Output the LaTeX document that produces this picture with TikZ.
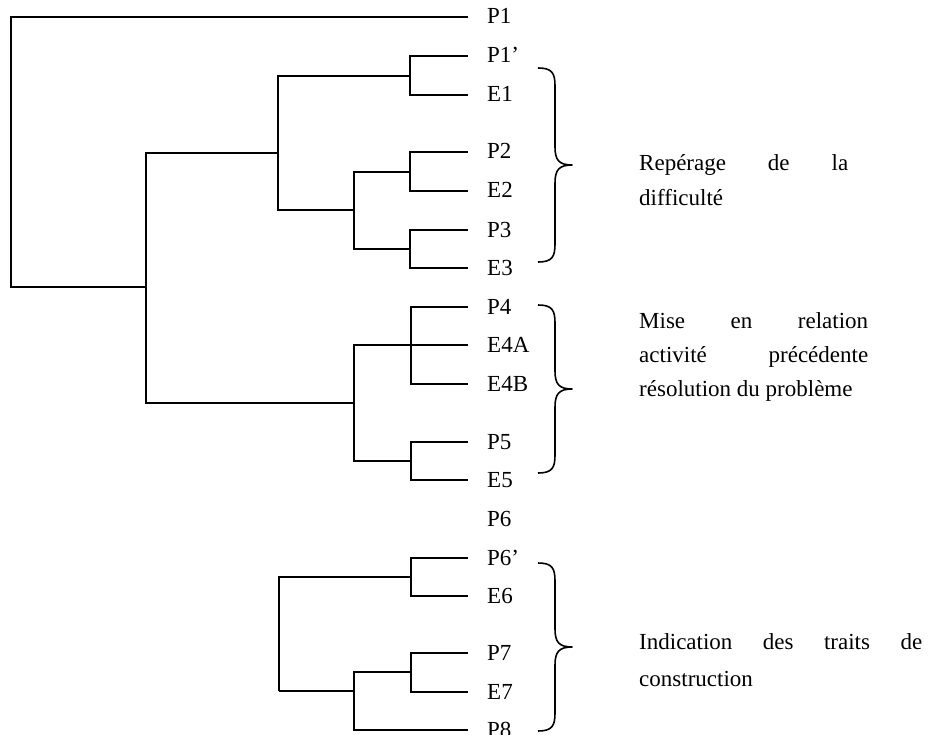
\documentclass[tikz,border=0pt]{standalone}
\usepackage{fontspec}
\setmainfont{Liberation Serif}
\newcommand\wordbrace[3]{%
  \draw[bracestyle] (538,#1) .. controls (552,#1) and (555,#1+5) .. (555,#1+18)
    -- (555,#3-18) .. controls (555,#3-5) and (559,#3) .. (572,#3)
    .. controls (559,#3) and (555,#3+5) .. (555,#3+18)
    -- (555,#2-18) .. controls (555,#2-5) and (552,#2) .. (538,#2);}
\begin{document}
\begin{tikzpicture}[x=1pt,y=-1pt,
  tree/.style={line width=1.8pt, line join=miter},
  bracestyle/.style={line width=1.6pt, line join=round},
  leaf/.style={anchor=base west, inner sep=0pt, font=\fontsize{23}{27}\selectfont},
  desc/.style={anchor=base west, inner sep=0pt, font=\fontsize{23}{27}\selectfont}]
\fill[white] (0,0) rectangle (928,735);
\useasboundingbox (0,0) rectangle (928,735);

% leaves
\foreach \n/\t/\y in {P1/P1/17, P1p/P1’/56, E1/E1/95, P2/P2/152, E2/E2/191,
  P3/P3/230, E3/E3/268, P4/P4/307, E4A/E4A/345, E4B/E4B/384, P5/P5/442,
  E5/E5/480, P6p/P6’/558, E6/E6/596, P7/P7/653, E7/E7/692, P8/P8/730} {
  \coordinate (t\n) at (468,\y);
  \node[leaf] (l\n) at (487,\y+7) {\t};
}
\node[leaf] (lP6) at (487,526) {P6};

% internal joins
\coordinate (a) at (410,76);
\coordinate (b) at (410,172);
\coordinate (c) at (410,249);
\coordinate (d) at (354,210);
\coordinate (e) at (278,153);
\coordinate (f) at (411,345);
\coordinate (g) at (411,461);
\coordinate (h) at (354,403);
\coordinate (i) at (146,287);
\coordinate (root) at (11,17);
\coordinate (j) at (411,577);
\coordinate (k) at (411,672);
\coordinate (l) at (354,691);
\coordinate (m) at (279,691);

\draw[tree] (tP1) -- (root) |- (i);
\draw[tree] (i) |- (e);
\draw[tree] (i) |- (h);
\draw[tree] (e) |- (a);
\draw[tree] (e) |- (d);
\draw[tree] (a) |- (tP1p);
\draw[tree] (a) |- (tE1);
\draw[tree] (d) |- (b);
\draw[tree] (d) |- (c);
\draw[tree] (b) |- (tP2);
\draw[tree] (b) |- (tE2);
\draw[tree] (c) |- (tP3);
\draw[tree] (c) |- (tE3);
\draw[tree] (h) |- (tE4A);
\draw[tree] (h) |- (g);
\draw[tree] (f) |- (tP4);
\draw[tree] (f) |- (tE4B);
\draw[tree] (g) |- (tP5);
\draw[tree] (g) |- (tE5);
\draw[tree] (m) |- (j);
\draw[tree] (m) -- (l);
\draw[tree] (j) |- (tP6p);
\draw[tree] (j) |- (tE6);
\draw[tree] (l) |- (k);
\draw[tree] (l) |- (tP8);
\draw[tree] (k) |- (tP7);
\draw[tree] (k) |- (tE7);

% braces
\wordbrace{68}{262}{165}
\wordbrace{305}{473}{389}
\wordbrace{563}{731}{647}

% descriptions
\node[desc] (r1a) at (639,171) {\hbox to 209pt{Repérage\hfill de\hfill la}};
\node[desc] (r1b) at (639,206) {difficulté};
\node[desc] (r2a) at (639,328) {\hbox to 229pt{Mise\hfill en\hfill relation}};
\node[desc] (r2b) at (639,362) {\hbox to 229pt{activité\hfill précédente}};
\node[desc] (r2c) at (639,396) {résolution du problème};
\node[desc] (r3a) at (639,649) {\hbox to 283pt{Indication\hfill des\hfill traits\hfill de}};
\node[desc] (r3b) at (639,686) {construction};
\end{tikzpicture}
\end{document}
